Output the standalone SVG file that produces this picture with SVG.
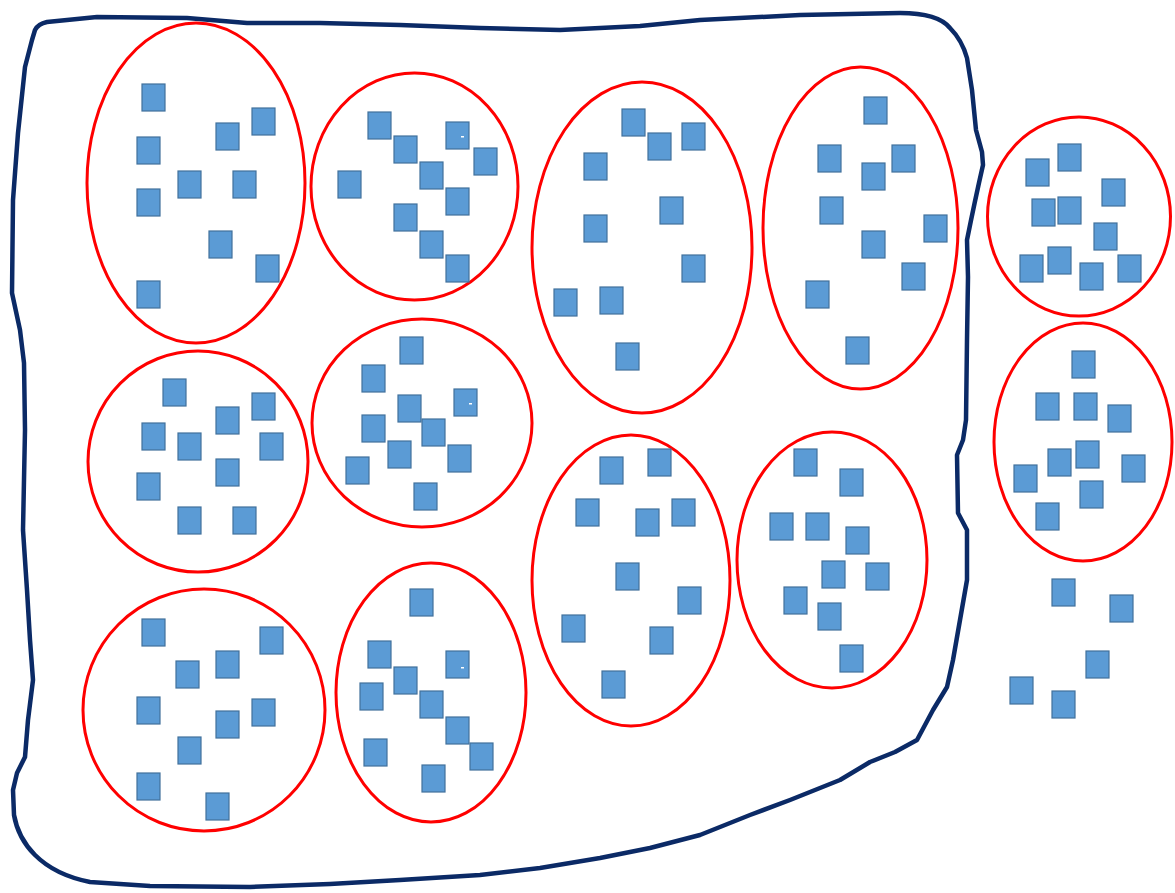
<svg xmlns="http://www.w3.org/2000/svg" width="1175" height="893" viewBox="0 0 1175 893">
<defs>
<style>
.b{fill:none;stroke:#0b2a66;stroke-width:4.5;stroke-linejoin:round;stroke-linecap:round}
.e{fill:none;stroke:#ff0000;stroke-width:3}
.s{fill:#5b9bd5;stroke:#41719c;stroke-width:1.2}
.d{fill:#ffffff}
</style>
<symbol id="sq" overflow="visible"><rect class="s" x="0" y="0" width="23" height="27"/></symbol>
</defs>
<rect width="1175" height="893" fill="#ffffff"/>
<g id="boundary">
<path class="b" d="M35,30 Q38,24 47,22 L97,17 L187,18 L247,23 L320,23 L400,25 L480,28 L560,30 L640,26 L700,20 L800,15 L900,13 Q938,13 950,28 Q962,40 967,58 L972,90 L976,130 L982,152 L983,165 Q975,200 967,240 L968,277 L967,340 L966,420 L963,440 L957,455 L958,513 L967,530 L967,580 L960,620 L953,660 L947,687 L933,710 L917,740 L895,752 L870,762 L840,780 L790,800 L750,815 L700,835 L650,848 L600,858 L540,868 L480,875 L400,880 L330,884 L250,887 L150,886 L90,882 Q55,875 35,855 Q18,838 14,815 L13,790 L17,773 L25,757 L28,720 L33,680 L30,640 L27,590 L23,530 L25,430 L24,363 L20,330 L12,293 L13,200 L18,133 L25,67 L32,40 Z"/>
</g>
<g id="cluster1">
<ellipse class="e" cx="196" cy="183" rx="109" ry="160"/>
<use href="#sq" x="142" y="84"/><use href="#sq" x="137" y="137"/><use href="#sq" x="137" y="189"/><use href="#sq" x="216" y="123"/><use href="#sq" x="252" y="108"/><use href="#sq" x="178" y="171"/><use href="#sq" x="233" y="171"/><use href="#sq" x="209" y="231"/><use href="#sq" x="256" y="255"/><use href="#sq" x="137" y="281"/>
</g>
<g id="cluster2">
<ellipse class="e" cx="414.5" cy="186.5" rx="103.5" ry="113.5"/>
<use href="#sq" x="368" y="112"/><use href="#sq" x="394" y="136"/><use href="#sq" x="446" y="122"/><use href="#sq" x="474" y="148"/><use href="#sq" x="338" y="171"/><use href="#sq" x="420" y="162"/><use href="#sq" x="446" y="188"/><use href="#sq" x="394" y="204"/><use href="#sq" x="420" y="231"/><use href="#sq" x="446" y="255"/>
<rect class="d" x="461" y="136" width="3" height="1.5"/>
</g>
<g id="cluster3">
<ellipse class="e" cx="642" cy="247.5" rx="110" ry="165.5"/>
<use href="#sq" x="622" y="109"/><use href="#sq" x="648" y="133"/><use href="#sq" x="682" y="123"/><use href="#sq" x="584" y="153"/><use href="#sq" x="660" y="197"/><use href="#sq" x="584" y="215"/><use href="#sq" x="682" y="255"/><use href="#sq" x="554" y="289"/><use href="#sq" x="600" y="287"/><use href="#sq" x="616" y="343"/>
</g>
<g id="cluster4">
<ellipse class="e" cx="860.5" cy="228" rx="97.5" ry="161"/>
<use href="#sq" x="864" y="97"/><use href="#sq" x="818" y="145"/><use href="#sq" x="892" y="145"/><use href="#sq" x="862" y="163"/><use href="#sq" x="820" y="197"/><use href="#sq" x="924" y="215"/><use href="#sq" x="862" y="231"/><use href="#sq" x="902" y="263"/><use href="#sq" x="806" y="281"/><use href="#sq" x="846" y="337"/>
</g>
<g id="cluster5">
<ellipse class="e" cx="1079" cy="216.5" rx="91.5" ry="99.5"/>
<use href="#sq" x="1026" y="159"/><use href="#sq" x="1058" y="144"/><use href="#sq" x="1102" y="179"/><use href="#sq" x="1032" y="199"/><use href="#sq" x="1058" y="197"/><use href="#sq" x="1094" y="223"/><use href="#sq" x="1020" y="255"/><use href="#sq" x="1048" y="247"/><use href="#sq" x="1080" y="263"/><use href="#sq" x="1118" y="255"/>
</g>
<g id="cluster6">
<ellipse class="e" cx="198" cy="461.5" rx="110" ry="110.5"/>
<use href="#sq" x="163" y="379"/><use href="#sq" x="216" y="407"/><use href="#sq" x="252" y="393"/><use href="#sq" x="142" y="423"/><use href="#sq" x="178" y="433"/><use href="#sq" x="260" y="433"/><use href="#sq" x="216" y="459"/><use href="#sq" x="137" y="473"/><use href="#sq" x="178" y="507"/><use href="#sq" x="233" y="507"/>
</g>
<g id="cluster7">
<ellipse class="e" cx="422" cy="423" rx="110" ry="104"/>
<use href="#sq" x="400" y="337"/><use href="#sq" x="362" y="365"/><use href="#sq" x="398" y="395"/><use href="#sq" x="454" y="389"/><use href="#sq" x="362" y="415"/><use href="#sq" x="422" y="419"/><use href="#sq" x="388" y="441"/><use href="#sq" x="448" y="445"/><use href="#sq" x="346" y="457"/><use href="#sq" x="414" y="483"/>
<rect class="d" x="469" y="403" width="3" height="1.5"/>
</g>
<g id="cluster8">
<ellipse class="e" cx="631" cy="580.5" rx="99" ry="145.5"/>
<use href="#sq" x="600" y="457"/><use href="#sq" x="648" y="449"/><use href="#sq" x="576" y="499"/><use href="#sq" x="636" y="509"/><use href="#sq" x="672" y="499"/><use href="#sq" x="616" y="563"/><use href="#sq" x="678" y="587"/><use href="#sq" x="562" y="615"/><use href="#sq" x="650" y="627"/><use href="#sq" x="602" y="671"/>
</g>
<g id="cluster9">
<ellipse class="e" cx="832" cy="560" rx="95" ry="128"/>
<use href="#sq" x="794" y="449"/><use href="#sq" x="840" y="469"/><use href="#sq" x="770" y="513"/><use href="#sq" x="806" y="513"/><use href="#sq" x="846" y="527"/><use href="#sq" x="822" y="561"/><use href="#sq" x="866" y="563"/><use href="#sq" x="784" y="587"/><use href="#sq" x="818" y="603"/><use href="#sq" x="840" y="645"/>
</g>
<g id="cluster10">
<ellipse class="e" cx="204" cy="710" rx="121" ry="121"/>
<use href="#sq" x="142" y="619"/><use href="#sq" x="260" y="627"/><use href="#sq" x="176" y="661"/><use href="#sq" x="216" y="651"/><use href="#sq" x="137" y="697"/><use href="#sq" x="252" y="699"/><use href="#sq" x="216" y="711"/><use href="#sq" x="178" y="737"/><use href="#sq" x="137" y="773"/><use href="#sq" x="206" y="793"/>
</g>
<g id="cluster11">
<ellipse class="e" cx="1083" cy="442" rx="89" ry="119"/>
<use href="#sq" x="1072" y="351"/><use href="#sq" x="1036" y="393"/><use href="#sq" x="1074" y="393"/><use href="#sq" x="1108" y="405"/><use href="#sq" x="1048" y="449"/><use href="#sq" x="1076" y="441"/><use href="#sq" x="1122" y="455"/><use href="#sq" x="1014" y="465"/><use href="#sq" x="1080" y="481"/><use href="#sq" x="1036" y="503"/>
</g>
<g id="cluster12">
<ellipse class="e" cx="431" cy="692.5" rx="95" ry="129.5"/>
<use href="#sq" x="410" y="589"/><use href="#sq" x="368" y="641"/><use href="#sq" x="446" y="651"/><use href="#sq" x="394" y="667"/><use href="#sq" x="360" y="683"/><use href="#sq" x="420" y="691"/><use href="#sq" x="446" y="717"/><use href="#sq" x="470" y="743"/><use href="#sq" x="364" y="739"/><use href="#sq" x="422" y="765"/>
<rect class="d" x="461" y="667" width="3" height="1.5"/>
</g>
<g id="loose">
<use href="#sq" x="1052" y="579"/><use href="#sq" x="1110" y="595"/><use href="#sq" x="1086" y="651"/><use href="#sq" x="1010" y="677"/><use href="#sq" x="1052" y="691"/>
</g>
</svg>
